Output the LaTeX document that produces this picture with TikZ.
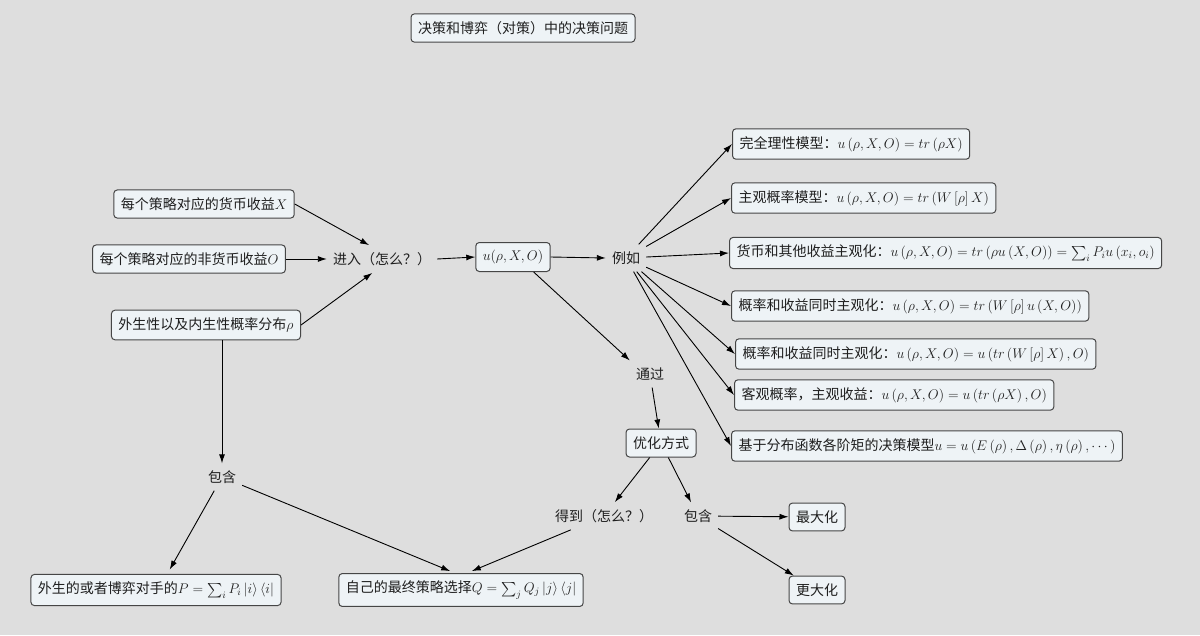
\RequirePackage{fix-cm}
\documentclass[tikz,border=0pt]{standalone}
\usepackage{fontspec}
\usepackage{amsmath}
\newfontfamily\cjk{Noto Sans CJK SC}
\usetikzlibrary{arrows.meta}
\definecolor{bgc}{RGB}{222,222,222}
\definecolor{boxc}{RGB}{238,243,246}
\definecolor{linec}{RGB}{70,70,70}
\begin{document}
\begin{tikzpicture}[x=1pt,y=1pt,yscale=-1,
  box/.style={draw=linec,fill=boxc,line width=1pt,rounded corners=3.5pt,inner xsep=7pt,inner ysep=7.5pt},
  txt/.style={inner xsep=6pt,inner ysep=7pt},
  arr/.style={-{Latex[length=9pt,width=6pt]},line width=0.9pt,color=black},
  every node/.style={font=\cjk\fontsize{14}{16}\selectfont,text=black!88}]
\fill[bgc] (0,0) rectangle (1200,635);
\useasboundingbox (0,0) rectangle (1200,635);

% Text Node
\node[box] (title) at (523,28) {决策和博弈（对策）中的决策问题};

% inputs
\node[box] (mx) at (204,204) {每个策略对应的货币收益$X$};
\node[box] (mo) at (189,259) {每个策略对应的非货币收益$O$};
\node[box] (rho) at (206,325) {外生性以及内生性概率分布$\rho$};
\node[txt] (enter) at (382,259) {进入（怎么？）};
\node[box] (util) at (513,257) {$u(\rho,X,O)$};
\node[txt] (eg) at (626,258) {例如};

% models
\node[box,anchor=west] (m1) at (732,144) {完全理性模型：$u\left(\rho,X,O\right)=tr\left(\rho X\right)$};
\node[box,anchor=west] (m2) at (731,198) {主观概率模型：$u\left(\rho,X,O\right)=tr\left(W\left[\rho\right]X\right)$};
\node[box,anchor=west] (m3) at (729,253) {货币和其他收益主观化：$u\left(\rho,X,O\right)=tr\left(\rho u\left(X,O\right)\right)=\sum_iP_iu\left(x_i,o_i\right)$};
\node[box,anchor=west] (m4) at (731,306) {概率和收益同时主观化：$u\left(\rho,X,O\right)=tr\left(W\left[\rho\right]u\left(X,O\right)\right)$};
\node[box,anchor=west] (m5) at (735,354) {概率和收益同时主观化：$u\left(\rho,X,O\right)=u\left(tr\left(W\left[\rho\right]X\right),O\right)$};
\node[box,anchor=west] (m6) at (734,395) {客观概率，主观收益：$u\left(\rho,X,O\right)=u\left(tr\left(\rho X\right),O\right)$};
\node[box,anchor=west] (m7) at (731,446) {基于分布函数各阶矩的决策模型$u=u\left(E\left(\rho\right),\Delta\left(\rho\right),\eta\left(\rho\right),\cdots\right)$};

% optimisation
\node[txt] (via) at (650,374) {通过};
\node[box] (opt) at (661,443) {优化方式};
\node[txt] (get) at (604,516) {得到（怎么？）};
\node[txt] (incr) at (698,516) {包含};
\node[box] (maxi) at (817,517) {最大化};
\node[box] (more) at (817,590) {更大化};

% strategies
\node[txt] (incl) at (222,477) {包含};
\node[box] (popp) at (156,590) {外生的或者博弈对手的$P=\sum_iP_i\left|i\right\rangle\left\langle i\right|$};
\node[box] (qown) at (461,590) {自己的最终策略选择$Q=\sum_jQ_j\left|j\right\rangle\left\langle j\right|$};

%Straight Lines
\draw[arr] (mx.east) -- (enter.133);
\draw[arr] (mo.east) -- (enter.west);
\draw[arr] (rho.east) -- (enter.-125);
\draw[arr] (enter.east) -- (util.west);
\draw[arr] (util.east) -- (eg.west);
\draw[arr] (util.-36) -- (via.north west);
\foreach \m in {m1,m2,m3,m4,m5,m6,m7}
  \draw[arr] (eg) -- (\m.west);
\draw[arr] (via) -- (opt);
\draw[arr] (opt) -- (get);
\draw[arr] (opt) -- (incr);
\draw[arr] (incr) -- (maxi);
\draw[arr] (incr) -- (more);
\draw[arr] (incl |- rho.south) -- (incl.north);
\draw[arr,shorten >=5pt] (incl) -- (popp.55);
\draw[arr,shorten >=5pt] (incl) -- (qown.110);
\draw[arr,shorten >=5pt] (get) -- (qown.70);
\end{tikzpicture}
\end{document}
